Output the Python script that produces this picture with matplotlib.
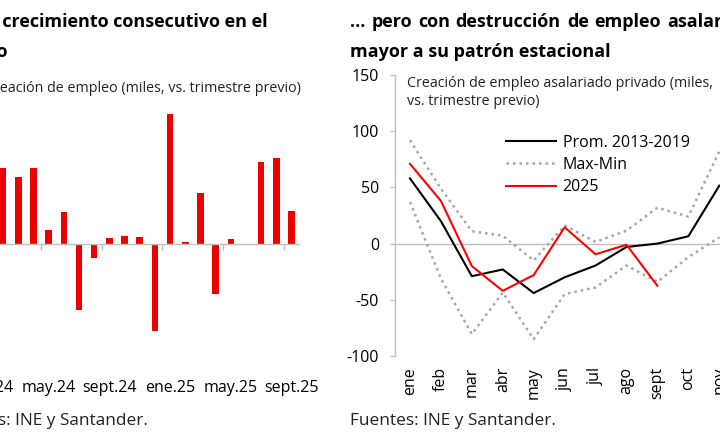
import numpy as np
import matplotlib
matplotlib.use("Agg")
import matplotlib.pyplot as plt
from matplotlib.lines import Line2D

plt.rcParams['font.family'] = ['Open Sans', 'DejaVu Sans']

# ---------------- data ----------------
left_months = ["ene.24", "feb.24", "mar.24", "abr.24", "may.24", "jun.24", "jul.24",
               "ago.24", "sept.24", "oct.24", "nov.24", "dic.24", "ene.25", "feb.25",
               "mar.25", "abr.25", "may.25", "jun.25", "jul.25", "ago.25", "sept.25"]
left_values = [np.nan, 67, 59, 67, 12, 28, -59, -13, 5, 7, 6, -78, 115, 1, 45, -45,
               4, 0, 73, 76, 29]

right_months = ["ene", "feb", "mar", "abr", "may", "jun", "jul", "ago", "sept",
                "oct", "nov", "dic"]
prom_2013_2019 = [58, 20, -29, -23, -44, -30, -19.5, -3, 0, 6.5, 51.5]
max_vals = [92, 49, 11, 7, -15, 16, 1.5, 11.5, 32, 24, 82]
min_vals = [37, -31, -80.5, -43.5, -85, -45, -39, -19.5, -34, -12, 5.5]
y2025 = [71, 38, -20, -42, -28, 14.5, -9.5, -1, -37.5]

legend_labels = ["Prom. 2013-2019", "Max-Min", "2025"]

# ---------------- figure ----------------
W, H = 720, 441
fig = plt.figure(figsize=(W / 100, H / 100), dpi=100)

def fx(px):
    return px / W

def fy(py):
    return 1 - py / H

GRAY = "#BFBFBF"
RED_BAR = "#EC0000"
RED_LINE = "#FF0000"
DOT = "#A6A6A6"
DOTSTYLE = (0, (1, 1.6))

y_top, y_bot = 75, 356

# ---------- left chart ----------
lx0, lx1 = -34.9, 299.1
axL = fig.add_axes([fx(lx0), fy(y_bot), fx(lx1 - lx0), (y_bot - y_top) / H])
xL = np.arange(len(left_months))
axL.bar(xL, left_values, width=0.43, color=RED_BAR)
axL.set_xlim(-1.5, len(left_months) - 0.5)
axL.set_ylim(-100, 150)
for s in ["top", "right", "left"]:
    axL.spines[s].set_visible(False)
axL.spines["bottom"].set_position(("data", 0))
axL.spines["bottom"].set_color(GRAY)
axL.spines["bottom"].set_linewidth(1.0)
axL.set_yticks([])
major = xL[::4]
axL.set_xticks(major)
axL.set_xticklabels([left_months[i] for i in major])
axL.set_xticks(major - 0.5, minor=True)
axL.tick_params(axis="x", which="major", length=0, pad=98, labelsize=11.5)
axL.tick_params(axis="x", which="minor", length=4.3, width=1.0, color=GRAY, direction="out")

# ---------- right chart ----------
rx0 = 394.5
cw = 30.93
axR = fig.add_axes([fx(rx0), fy(y_bot), fx(12 * cw), (y_bot - y_top) / H])
xR = np.arange(len(right_months))
axR.axhline(0, color=GRAY, lw=1.0, zorder=1)
axR.plot(xR[:len(max_vals)], max_vals, color=DOT, lw=1.8, linestyle=DOTSTYLE, zorder=2)
axR.plot(xR[:len(min_vals)], min_vals, color=DOT, lw=1.8, linestyle=DOTSTYLE, zorder=2)
axR.plot(xR[:len(prom_2013_2019)], prom_2013_2019, color="black", lw=1.5, zorder=3)
axR.plot(xR[:len(y2025)], y2025, color=RED_LINE, lw=1.5, zorder=4)
axR.set_xlim(-0.5, 11.5)
axR.set_ylim(-100, 150)
axR.set_yticks([-100, -50, 0, 50, 100, 150])
axR.set_yticklabels(["-100", "-50", "0", "50", "100", "150"])
for s in ["top", "right", "bottom"]:
    axR.spines[s].set_visible(False)
axR.spines["left"].set_color(GRAY)
axR.spines["left"].set_linewidth(1.0)
axR.tick_params(axis="y", length=3.6, width=1.0, color=GRAY, pad=7.5, labelsize=11.5)
axR.set_xticks(xR)
axR.set_xticklabels(right_months, rotation=90)
axR.tick_params(axis="x", length=0, pad=8, labelsize=11.5)

handles = [Line2D([], [], color="black", lw=1.5),
           Line2D([], [], color=DOT, lw=1.8, linestyle=DOTSTYLE),
           Line2D([], [], color=RED_LINE, lw=1.5)]
fig.legend(handles, legend_labels,
           loc="upper left", bbox_to_anchor=(fx(506), fy(135)),
           frameon=False, fontsize=11.5, handlelength=3.15, handletextpad=0.4,
           labelspacing=0.38, borderpad=0, borderaxespad=0)

# ---------- texts ----------
title_kw = dict(fontsize=13, fontweight="bold", color="black", va="baseline")
fig.text(fx(268), fy(27), "Tercer mes de crecimiento consecutivo en el", ha="right", **title_kw)
fig.text(fx(8), fy(57), "empleo", ha="right", **title_kw)
fig.text(fx(350), fy(57), "mayor a su patrón estacional", ha="left", **title_kw)

# justified first line of the right title: first word starts at 350 px,
# last word starts at 667 px, equal gaps between words
words = ["...", "pero", "con", "destrucción", "de", "empleo", "asalariado"]
renderer = fig.canvas.get_renderer()
widths = []
for w in words:
    t = fig.text(0, 0, w, **title_kw)
    widths.append(t.get_window_extent(renderer).width)
    t.remove()
start, last_start = 350.0, 667.0
gap = (last_start - start - sum(widths[:-1])) / (len(words) - 1)
pos = start
for w, wd in zip(words, widths):
    fig.text(fx(pos), fy(27), w, ha="left", **title_kw)
    pos += wd + gap

sub_kw = dict(fontsize=10.3, color="#222222", va="baseline")
fig.text(fx(301), fy(92), "Creación de empleo (miles, vs. trimestre previo)", ha="right", **sub_kw)
fig.text(fx(407), fy(87), "Creación de empleo asalariado privado (miles,", ha="left", **sub_kw)
fig.text(fx(407), fy(105), "vs. trimestre previo)", ha="left", **sub_kw)

src_kw = dict(fontsize=12.4, color="#222222", va="baseline")
fig.text(fx(148), fy(425), "Fuentes: INE y Santander.", ha="right", **src_kw)
fig.text(fx(350), fy(425), "Fuentes: INE y Santander.", ha="left", **src_kw)

fig.savefig("out.png", dpi=100)
